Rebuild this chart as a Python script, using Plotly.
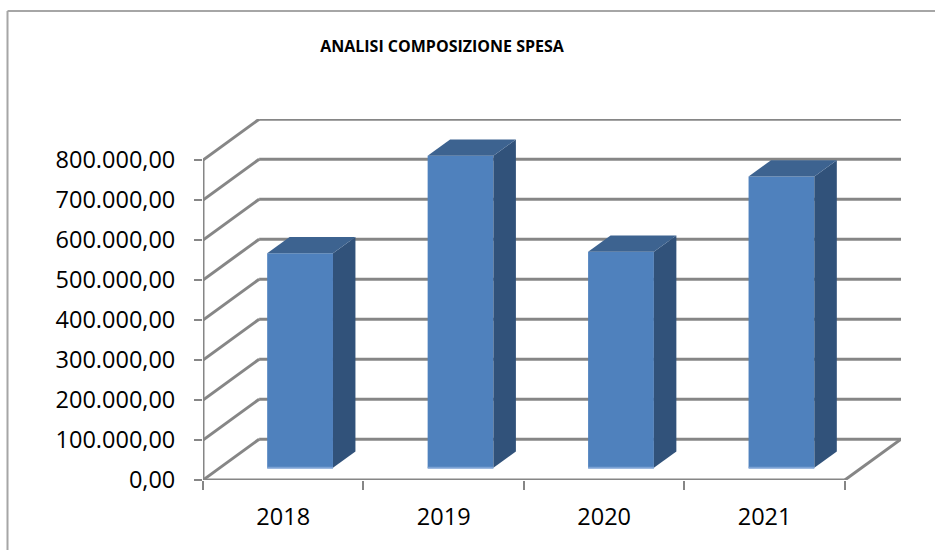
import plotly.graph_objects as go

# Data
years = ["2018", "2019", "2020", "2021"]
spesa = [536000, 780000, 540000, 728000]
y_ticks = [0, 100000, 200000, 300000, 400000, 500000, 600000, 700000, 800000]
title_text = "<b>ANALISI COMPOSIZIONE SPESA</b>"

# Style / oblique projection settings
DEPTH_X, DEPTH_Y = 0.35, 102000
GAP_FRAC, BAR_FRAC = 0.3, 0.4
BAR_W = 0.41
FRONT, SIDE, TOP, EDGE = "#4F81BD", "#31527A", "#3D6390", "#7CA2D4"
GRID, FRAME = "#868686", "#A6A6A6"
W, H = 935, 550
L, R, T, B = 203, 34, 119, 70

centers = [i + 0.5 + GAP_FRAC * DEPTH_X for i in range(len(years))]
base = GAP_FRAC * DEPTH_Y
dx, dy = BAR_FRAC * DEPTH_X, BAR_FRAC * DEPTH_Y
n = len(years)

shapes = []
def ln(x0, y0, x1, y1, color=GRID, width=3):
    shapes.append(dict(type="line", xref="x", yref="y", x0=x0, y0=y0, x1=x1, y1=y1,
                       layer="below", line=dict(color=color, width=width)))

for t in y_ticks:
    ln(DEPTH_X, t + DEPTH_Y, n + DEPTH_X, t + DEPTH_Y)   # back wall
    ln(0, t, DEPTH_X, t + DEPTH_Y)                       # side wall
ln(0, 0, 0, y_ticks[-1])                                 # value axis
ln(0, 0, n, 0)                                           # category axis
ln(n, 0, n + DEPTH_X, DEPTH_Y)                           # floor edge

# Outer chart frame
for x0, y0, x1, y1 in [(7.5, 11, W, 11), (7.5, 11, 7.5, H)]:
    shapes.append(dict(type="line", xref="paper", yref="paper",
                       x0=(x0 - L) / (W - L - R), x1=(x1 - L) / (W - L - R),
                       y0=(H - B - y0) / (H - T - B), y1=(H - B - y1) / (H - T - B),
                       line=dict(color=FRAME, width=2)))

fig = go.Figure()
fig.add_trace(go.Bar(x=centers, y=spesa, base=base, width=BAR_W,
                     marker=dict(color=FRONT, line=dict(width=0)), hoverinfo="skip"))

for c, v in zip(centers, spesa):
    xl, xr = c - BAR_W / 2, c + BAR_W / 2
    top = base + v
    fig.add_trace(go.Scatter(x=[xr, xr + dx, xr + dx, xr, xr],
                             y=[base, base + dy, top + dy, top, base],
                             mode="lines", fill="toself", fillcolor=SIDE,
                             line=dict(width=0, color=SIDE), hoverinfo="skip"))
    fig.add_trace(go.Scatter(x=[xl, xr, xr + dx, xl + dx, xl],
                             y=[top, top, top + dy, top + dy, top],
                             mode="lines", fill="toself", fillcolor=TOP,
                             line=dict(width=0, color=TOP), hoverinfo="skip"))
    fig.add_trace(go.Scatter(x=[xl, xr], y=[base, base], mode="lines",
                             line=dict(color=EDGE, width=2), hoverinfo="skip"))

fig.update_layout(
    width=W, height=H, showlegend=False, separators=",.",
    margin=dict(l=L, r=R, t=T, b=B, pad=0),
    paper_bgcolor="white", plot_bgcolor="white",
    font=dict(family="Open Sans", size=23.5, color="#000000"),
    title=dict(text=title_text, x=442 / W, xanchor="center", xref="container",
               y=1 - 46 / H, yanchor="middle", yref="container",
               font=dict(family="Open Sans", size=16, color="#000000")),
    shapes=shapes,
    xaxis=dict(range=[0, n + DEPTH_X], tickmode="array",
               tickvals=[i + 0.5 for i in range(n)], ticktext=years,
               ticks="outside", ticklen=16, tickcolor="rgba(0,0,0,0)",
               showgrid=False, zeroline=False, showline=False,
               minor=dict(tickmode="array", tickvals=list(range(n + 1)), ticks="outside",
                          ticklen=9, tickwidth=2, tickcolor=GRID, showgrid=False)),
    yaxis=dict(range=[0, 902500], tickmode="array", tickvals=y_ticks, tickformat=",.2f",
               ticks="outside", ticklen=8, tickwidth=2, tickcolor=GRID, ticklabelstandoff=14,
               showgrid=False, zeroline=False, showline=False),
)

fig.write_html("out.html", post_script="document.body.style.margin='0';",
               config={"displayModeBar": False})
